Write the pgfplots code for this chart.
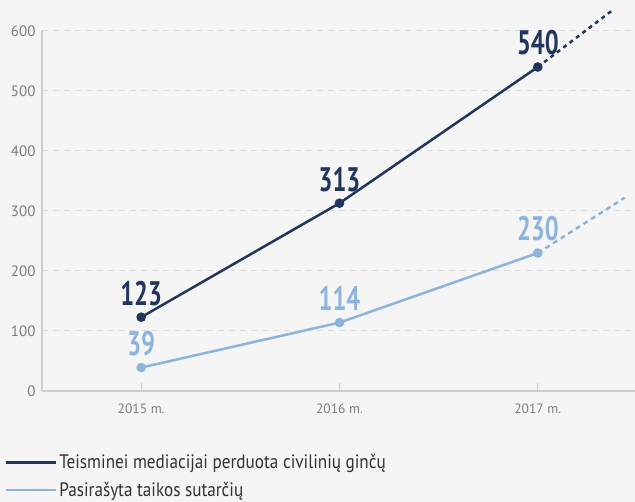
\documentclass[border=0pt]{standalone}
\usepackage{pgfplots}
\pgfplotsset{compat=1.18}
\usepackage{fontspec}
\setmainfont{PT Sans}
\definecolor{dark}{RGB}{33,53,93}
\definecolor{light}{RGB}{141,180,222}
\definecolor{bg}{RGB}{245,245,245}
\definecolor{gridc}{RGB}{220,220,220}
\definecolor{axc}{RGB}{205,205,205}
\definecolor{ticklab}{RGB}{125,125,125}
\definecolor{legtext}{RGB}{50,50,50}
\newcommand{\numlab}[1]{\scalebox{0.72}[1]{\fontsize{34}{34}\selectfont\bfseries #1}}
\newcommand{\legtxt}[1]{\scalebox{0.88}[1]{#1}}
\begin{document}
\begin{tikzpicture}
\fill[bg] (-42pt,-111pt) rectangle (593pt,391pt);
\path[use as bounding box] (-42pt,-111pt) rectangle (593pt,391pt);
\begin{axis}[
  at={(0pt,0pt)}, anchor=south west,
  scale only axis, width=593pt, height=360pt,
  xmin=2014.5, xmax=2017.49, ymin=0, ymax=600,
  clip=false,
  axis lines*=left,
  axis line style={draw=axc, line width=1.2pt},
  xtick={2015,2016,2017}, xticklabels={2015 m.,2016 m.,2017 m.},
  ytick={0,100,...,600},
  ymajorgrids, grid style={draw=gridc, dash pattern=on 6pt off 5pt, line width=1pt},
  x tick style={draw=axc, line width=1pt}, tick align=inside, major tick length=8pt,
  y tick style={draw=none},
  /pgf/number format/assume math mode=true,
  x tick label style={font=\fontsize{13.5}{13.5}\selectfont, text=ticklab, yshift=-9pt},
  y tick label style={font=\fontsize{15}{15}\selectfont, text=ticklab, xshift=-3pt},
  legend style={at={(axis description cs:-0.063,-0.17)}, anchor=north west, draw=none, fill=none,
     font=\fontsize{19.5}{21}\selectfont\color{legtext}, row sep=8pt, inner sep=0pt},
  legend cell align=left,
  legend image code/.code={\draw[#1, mark=none] (0pt,0pt) -- (40pt,0pt); \path (0pt,0pt) -- (50pt,0pt);},
  nodes near coords={\numlab{\pgfplotspointmeta}},
  point meta=explicit symbolic,
  every node near coord/.append style={anchor=base, yshift=12pt},
]
\addplot[dark, line width=2.5pt, mark=*, mark size=3.5pt, nodes near coords style={text=dark}]
  coordinates {(2015,123)[123] (2016,313)[313] (2017,540)[540]};
\addlegendentry{\legtxt{Teisminei mediacijai perduota civilinių ginčų}}
\addplot[light, line width=2.5pt, mark=*, mark size=3.5pt, nodes near coords style={text=light}]
  coordinates {(2015,39)[39] (2016,114)[114] (2017,230)[230]};
\addlegendentry{\legtxt{Pasirašyta taikos sutarčių}}
\addplot[dark, line width=2.5pt, dash pattern=on 4pt off 4pt, forget plot, nodes near coords={}]
  coordinates {(2017,540) (2017.378,635)};
\addplot[light, line width=2.5pt, dash pattern=on 5pt off 4pt, forget plot, nodes near coords={}]
  coordinates {(2017,230) (2017.438,322)};
\end{axis}
\end{tikzpicture}
\end{document}
